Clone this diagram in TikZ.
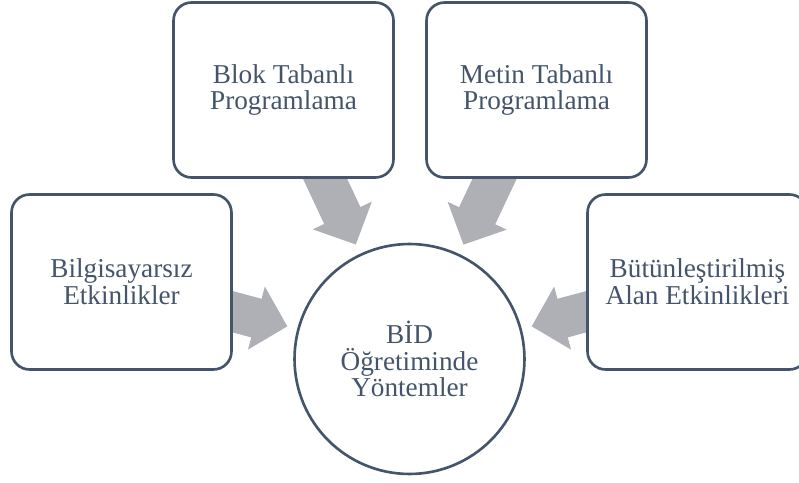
\documentclass[tikz,border=0pt]{standalone}
\usepackage{fontspec}
\setmainfont{Liberation Serif}
\usetikzlibrary{calc,arrows.meta,backgrounds}
\definecolor{slate}{HTML}{44546A}
\definecolor{arrowgray}{HTML}{AEB0B5}

\begin{document}
\begin{tikzpicture}[x=0.02cm,y=-0.02cm,line join=round,
  box/.style={draw=slate,line width=1.5pt,fill=white,rounded corners=0.36cm,
    minimum width=4.4cm,minimum height=3.5cm,text=slate,align=center,
    font=\fontsize{15.5}{15.3}\selectfont},
  hub/.style={circle,draw=slate,line width=1.5pt,fill=white,minimum size=4.6cm,
    text=slate,align=center,font=\fontsize{15.5}{15.3}\selectfont},
  feed/.style={draw=arrowgray,line width=0.8cm,
    -{Triangle[length=0.64cm,width=1.3cm,line width=1pt]}}]

\clip (0,0) rectangle (799,483);

\node[box] (bilg) at (121.5,282) {Bilgisayarsız\\Etkinlikler};
\node[box] (blok) at (283.5,90) {Blok Tabanlı\\Programlama};
\node[box] (metin) at (536.5,90) {Metin Tabanlı\\Programlama};
\node[box] (butun) at (697.5,282) {Bütünleştirilmiş\\Alan Etkinlikleri};

\node[hub] (bid) at (409.5,359) {BİD\\Öğretiminde\\Yöntemler};

\begin{scope}[on background layer]
\draw[feed] (bilg.center) -- ($(bid.center)!2.53cm!(bilg.center)$);
\draw[feed] (blok.center) -- ($(bid.center)!2.53cm!(blok.center)$);
\draw[feed] (metin.center) -- ($(bid.center)!2.53cm!(metin.center)$);
\draw[feed] (butun.center) -- ($(bid.center)!2.53cm!(butun.center)$);
\end{scope}

\end{tikzpicture}
\end{document}
